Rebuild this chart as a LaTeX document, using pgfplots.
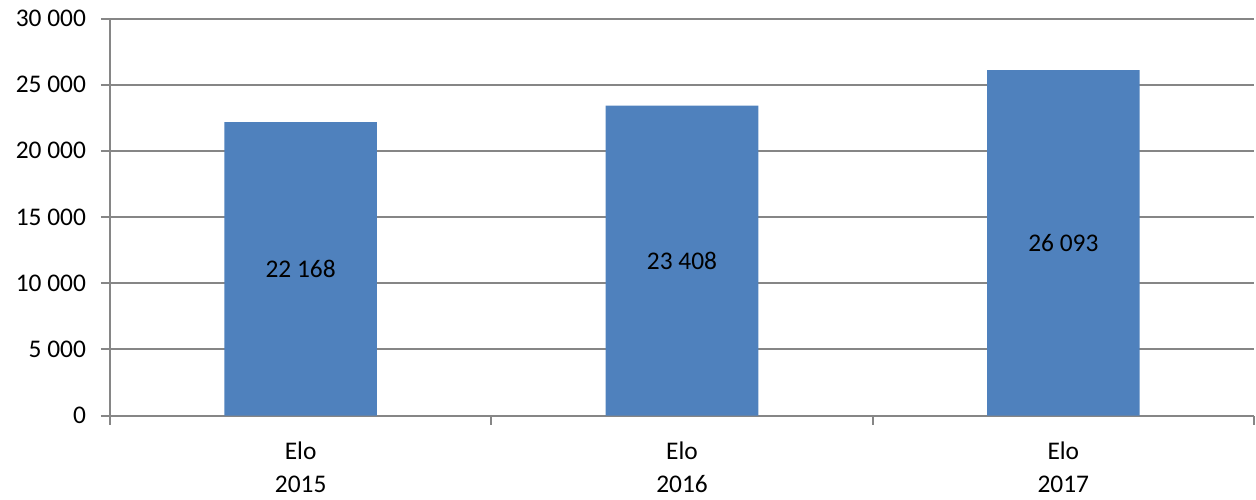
\documentclass[border=0pt]{standalone}
\usepackage{fontspec}
\setmainfont{Carlito}
\usepackage{pgfplots}
\pgfplotsset{compat=1.18}
\definecolor{barblue}{HTML}{4F81BD}
\definecolor{gridgray}{HTML}{868686}
\begin{document}
\begin{tikzpicture}
\begin{axis}[
  at={(0,0)}, anchor=south west,
  scale only axis=true,
  width=572pt, height=198.5pt,
  xmin=-0.5, xmax=2.5,
  ymin=0, ymax=30000,
  ytick={0,5000,10000,15000,20000,25000,30000},
  scaled y ticks=false,
  /pgf/number format/.cd, 1000 sep={\ }, assume math mode=true, /pgfplots/.cd,
  axis x line*=bottom, axis y line*=left,
  axis line style={gridgray, line width=1pt},
  ymajorgrids=true,
  major grid style={gridgray, line width=1pt},
  tick style={gridgray, line width=1pt},
  tick align=outside,
  major tick length=4.5pt,
  xtick={0,1,2},
  xticklabels={{Elo\\2015},{Elo\\2016},{Elo\\2017}},
  xtick style={draw=none},
  extra x ticks={-0.5,0.5,1.5,2.5},
  extra x tick labels={},
  extra x tick style={xtick style={draw=gridgray, line width=1pt}, grid=none, xticklabel style={inner sep=0pt}},
  xticklabel style={align=center, font=\fontsize{12.7}{16.5}\selectfont, text=black, yshift=-5pt},
  yticklabel style={font=\fontsize{12.7}{15}\selectfont, text=black, xshift=-4pt},
  clip=false,
]
\addplot[ybar, bar width=0.4, fill=barblue, draw=none] coordinates {(0,22168) (1,23408) (2,26093)};
% value labels at mid-height of each bar
\addplot[draw=none, mark=none, point meta=explicit symbolic,
  nodes near coords,
  nodes near coords style={anchor=center, font=\fontsize{12.7}{15}\selectfont, text=black},
] coordinates {(0,11084)[22 168] (1,11704)[23 408] (2,13046.5)[26 093]};
\end{axis}
\path (-55pt,-41.75pt) rectangle (573pt,207.75pt);
\end{tikzpicture}
\end{document}
